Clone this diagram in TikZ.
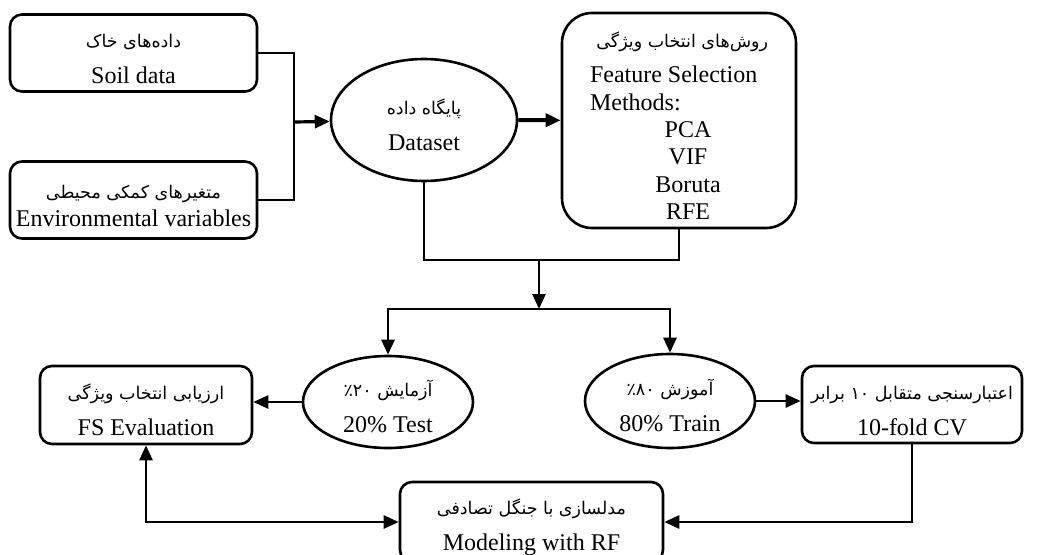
\documentclass[tikz,border=0pt]{standalone}
\usepackage{fontspec}
\setmainfont{Liberation Serif}
\newfontfamily\fafont[Script=Arabic]{DejaVu Sans}
\TeXXeTstate=1
\usetikzlibrary{positioning, arrows.meta, shapes.geometric}
\tikzset{
  >={Triangle[length=15pt,width=13pt]},
  box/.style={draw, rounded corners=12pt, align=center, inner sep=0pt},
  oval/.style={draw, ellipse, align=center, inner sep=0pt},
}
\newcommand{\fa}[1]{{\fafont\fontsize{17.5}{20}\selectfont\rule{0pt}{26pt}\beginR #1\endR}}
\newcommand{\method}[1]{\makebox[178pt][c]{\hspace{18pt}#1}}

\begin{document}
\begin{tikzpicture}[x=1pt, y=-1pt, line width=2.6pt, font=\fontsize{24}{36}\selectfont]
      \useasboundingbox (0,0) rectangle (1062,554);

      \node[box, minimum width=247pt, minimum height=77pt] (soil) at (133.5,53) {\fa{داده‌های خاک}\\Soil data};
      \node[box, minimum width=247pt, minimum height=77pt] (env) at (133.5,200) {\fa{متغیرهای کمکی محیطی}\\[-8pt]Environmental variables};
      \node[oval, minimum width=186pt, minimum height=122pt] (data) at (424,120) {\fa{پایگاه داده}\\Dataset};
      \node[box, rounded corners=30pt, minimum width=234pt, minimum height=215pt,
            align=left, font=\fontsize{24}{27.4}\selectfont] (fs) at (679,120.5)
            {\makebox[178pt][r]{\fa{روش‌های انتخاب ویژگی}}\\[8pt]
             \makebox[178pt][l]{Feature Selection}\\
             \makebox[178pt][l]{Methods:}\\
             \method{PCA}\\
             \method{VIF}\\
             \method{Boruta}\\
             \method{RFE}};

      \node[oval, minimum width=170pt, minimum height=92pt] (test) at (388,402) {\fa{آزمایش \beginL٪۲۰\endL}\\20\% Test};
      \node[oval, minimum width=170pt, minimum height=94pt] (train) at (670,401) {\fa{آموزش \beginL٪۸۰\endL}\\80\% Train};
      \node[box, minimum width=212pt, minimum height=78pt] (fse) at (146,405) {\fa{ارزیابی انتخاب ویژگی}\\FS Evaluation};
      \node[box, minimum width=220pt, minimum height=77pt] (cv) at (912,404.5) {\fa{اعتبارسنجی متقابل ۱۰ برابر}\\10-fold CV};
      \node[box, minimum width=263pt, minimum height=80pt] (model) at (531.5,522) {\fa{مدلسازی با جنگل تصادفی}\\Modeling with RF};

      \coordinate (merge) at (294,122);
      \coordinate (split) at (539,260);
      \coordinate (fork) at (539,309);

      \draw (soil.east) -| (merge) |- (env.east);
      \draw[->, line width=3.2pt] (merge) -- (data);
      \draw[->, line width=4pt] (data) -- (fs);
      \draw (data.south) |- (split) -| (fs.south);
      \draw[->] (split) -- (fork);
      \draw[->] (fork) -| (test);
      \draw[->] (fork) -| (train);
      \draw[->] (test.west) -- (fse.east |- test.west);
      \draw[->] (train.east) -- (cv.west |- train.east);
      \draw[->] (cv.south) |- (model.east);
      \draw[<->] (fse.south) |- (model.west);
    \end{tikzpicture}
\end{document}
